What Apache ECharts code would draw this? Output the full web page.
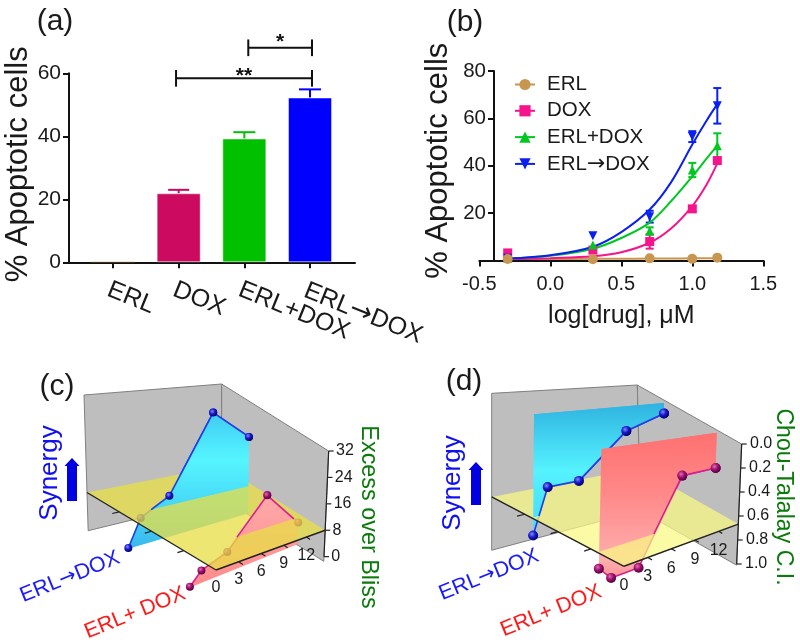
<!DOCTYPE html>
<html>
<head>
<meta charset="utf-8">
<style>
	html, body { margin: 0; background: #fff; }
	#main { width: 800px; height: 643px; }
</style>
<script src="https://cdn.jsdelivr.net/npm/echarts@6/dist/echarts.min.js"></script>
</head>
<body>
<div id="main"></div>
<script>
// (a) bars
const barCategories = ["ERL", "DOX", "ERL+DOX", "ERL→DOX"];
const barPositions = [1, 2, 3, 4];
const barValues = [0.2, 21.9, 39.3, 52.3];
const barErrors = [0, 1.1, 2, 2.6];
const barColors = ["#c89650", "#cc0a5f", "#00c000", "#0000ff"];
const brackets = [
	{ from: 1.96, to: 4.03, y: 58.4, arm: 2.65, labelY: 59, label: "**" },
	{ from: 3.06, to: 4.03, y: 68.1, arm: 2.65, labelY: 69.9, label: "*" },
];

// (b) dose response
const doseLogs = [-0.3, 0.3, 0.7, 1.0, 1.176];
const erlMeans = [0.6, 0.5, 0.9, 0.7, 1.2];
const doxMeans = [3.2, 4.4, 8, 21.8, 42.2];
const comboMeans = [1, 6.5, 12.5, 38.2, 48.4];
const seqMeans = [1, 10.5, 18.5, 52.3, 65.3];
const erlErrors = [0, 0, 0, 0, 0];
const doxErrors = [0, 0, 3, 1, 1];
const comboErrors = [0, 0, 1.5, 3, 5.3];
const seqErrors = [0, 0, 2.5, 2.3, 7.5];
const fitLogs = [-0.3, 0, 0.3, 0.5, 0.7, 0.85, 1.0, 1.1, 1.176];
const erlFit = [0.6, 0.6, 0.7, 0.7, 0.8, 0.8, 0.9, 0.9, 1];
const doxFit = [0.5, 1, 1.8, 3.5, 7.5, 13.5, 23, 32, 41];
const comboFit = [0.8, 2, 5, 9.5, 16, 25, 35.5, 43, 48.5];
const seqFit = [0.8, 2.2, 5.8, 12, 21.5, 33, 49, 59, 66];

// (c) and (d) ribbons
const ribbonDoses = [0.2, 1.7, 5, 10, 14];
const blissSeq = [0.2, 6.6, 10.4, 30.6, 22.5];
const blissCombo = [0.2, 2.9, 5.1, 16.8, 6.5];
const ciSeq = [0.785, 0.49, 0.49, 0.185, 0.083];
const ciCombo = [0.776, 0.867, 0.87, 0.29, 0.288];
const doseTicks = [0, 3, 6, 9, 12];
const blissTicks = [0, 8, 16, 24, 32];
const ciTicks = [0, 0.2, 0.4, 0.6, 0.8, 1];

const FONT = "Liberation Sans";
const INK = "#1a1a1a";

// the arrow glyph of Liberation is too short, take it from DejaVu
const arrowText = (s) => s.replace("→", "{a|→}");
const arrowRich = (size, color) => ({ a: { fontFamily: "DejaVu Sans", fontSize: size, color: color, fill: color } });

// pseudo 3D box, corners are given in the hidden grid units (u = front/back, v = front/left)
const panelC = {
	grid: 2,
	uMax: 14.5,
	zRange: [0, 32],
	plane: 8,
	wall: [-1.4, 32],
	reversed: false,
	corners: {
		front: [[650, 738], [642, 306]],
		right: [[972, 590], [986, 273]],
		left: [[264, 495], [252, 105]],
		back: [[665, 400], [665, 72]],
	},
	planeFill: "rgba(233,222,70,0.76)",
	ticks: blissTicks,
	tickText: (t) => String(t),
	tickDx: 22,
	doseDy: 54,
	balls: 12,
	seqV: 0.7,
	comboV: 0.22,
	seqStops: [[150, "#3fc8f5"], [300, "#55f5ff"], [570, "#39b8ee"]],
	comboStops: [[400, "#ffaaaa"], [690, "#ff8a8a"]],
};
const panelD = {
	grid: 3,
	uMax: 14.5,
	zRange: [0, 1],
	plane: 0.667,
	wall: [0, 1.01],
	reversed: true,
	corners: {
		front: [[620, 310], [608, 773]],
		right: [[965, 252], [950, 612]],
		left: [[215, 100], [215, 566]],
		back: [[652, 75], [661, 448]],
	},
	planeFill: "rgba(250,248,130,0.72)",
	ticks: ciTicks,
	tickText: (t) => t.toFixed(1),
	tickDx: 25,
	doseDy: 58,
	balls: 15,
	seqV: 0.7,
	comboV: 0.2,
	seqStops: [[130, "#2fb3e0"], [330, "#55f2ff"], [530, "#45d8ff"]],
	comboStops: [[215, "#ff7070"], [400, "#ff8888"], [600, "#ffaeae"], [660, "#ff9090"]],
};

const lerp = (a, b, t) => [a[0] + (b[0] - a[0]) * t, a[1] + (b[1] - a[1]) * t];

function project(panel, u, v, z) {
	const c = panel.corners;
	const s = u / panel.uMax;
	const w = (z - panel.zRange[0]) / (panel.zRange[1] - panel.zRange[0]);
	const low = lerp(lerp(c.front[0], c.right[0], s), lerp(c.left[0], c.back[0], s), v);
	const high = lerp(lerp(c.front[1], c.right[1], s), lerp(c.left[1], c.back[1], s), v);
	return lerp(low, high, w);
}

const aboveness = (panel, z) => (panel.reversed ? panel.plane - z : z - panel.plane);

// keep the part of a (u, z) polygon that stands above the yellow plane
function clipAbove(panel, poly) {
	const out = [];
	poly.forEach((p, i) => {
		const q = poly[(i + 1) % poly.length];
		const ap = aboveness(panel, p[1]);
		const aq = aboveness(panel, q[1]);
		if (ap >= 0) out.push(p);
		if (ap >= 0 !== aq >= 0) {
			const t = ap / (ap - aq);
			out.push([p[0] + (q[0] - p[0]) * t, p[1] + (q[1] - p[1]) * t]);
		}
	});
	return out;
}

function clipLine(panel, line) {
	const out = [];
	for (let i = 0; i < line.length - 1; i++) {
		const p = line[i];
		const q = line[i + 1];
		const ap = aboveness(panel, p[1]);
		const aq = aboveness(panel, q[1]);
		if (ap < 0 && aq < 0) continue;
		let a = p;
		let b = q;
		if (ap < 0 || aq < 0) {
			const t = ap / (ap - aq);
			const cross = [p[0] + (q[0] - p[0]) * t, p[1] + (q[1] - p[1]) * t];
			if (ap < 0) a = cross;
			else b = cross;
		}
		out.push([a, b]);
	}
	return out;
}

function ribbonSeries(panel, name, v, values, part, stops, lineColor, ballColors) {
	const base = panel.zRange[0];
	const line = ribbonDoses.map((d, i) => [d, values[i]]);
	const poly = [[ribbonDoses[0], base]]
		.concat(line)
		.concat([[ribbonDoses[ribbonDoses.length - 1], base]]);
	return {
		type: "custom",
		name: name,
		xAxisIndex: panel.grid,
		yAxisIndex: panel.grid,
		silent: true,
		data: line,
		renderItem: (params, api) => {
			const px = (u, z) => api.coord(project(panel, u, v, z));
			const children = [];
			if (params.dataIndex === 0) {
				const shape = part === "above" ? clipAbove(panel, poly) : poly;
				const y0 = api.coord([0, stops[0][0]])[1];
				const y1 = api.coord([0, stops[stops.length - 1][0]])[1];
				const colorStops = stops.map((s) => ({
					offset: (s[0] - stops[0][0]) / (stops[stops.length - 1][0] - stops[0][0]),
					color: s[1],
				}));
				children.push({
					type: "polygon",
					shape: { points: shape.map((p) => px(p[0], p[1])) },
					style: { fill: new echarts.graphic.LinearGradient(0, y0, 0, y1, colorStops, true) },
				});
				const segments = part === "above"
					? clipLine(panel, line)
					: line.slice(0, -1).map((p, i) => [p, line[i + 1]]);
				segments.forEach((seg) => {
					const a = px(seg[0][0], seg[0][1]);
					const b = px(seg[1][0], seg[1][1]);
					children.push({
						type: "line",
						shape: { x1: a[0], y1: a[1], x2: b[0], y2: b[1] },
						style: { stroke: lineColor, lineWidth: 1.6 },
					});
				});
			}
			const d = api.value(0);
			const z = api.value(1);
			if (part === "below" || aboveness(panel, z) >= 0) {
				const c = px(d, z);
				const r = Math.abs(api.coord([panel.balls, 0])[0] - api.coord([0, 0])[0]);
				children.push({
					type: "circle",
					shape: { cx: c[0], cy: c[1], r: r },
					style: {
						fill: new echarts.graphic.RadialGradient(0.38, 0.35, 0.65, [
							{ offset: 0, color: ballColors[0] },
							{ offset: 0.5, color: ballColors[1] },
							{ offset: 1, color: ballColors[2] },
						]),
					},
				});
			}
			return { type: "group", children: children };
		},
	};
}

// one-off drawing for a panel: walls, plane, axes
function panelLayer(panel, name, draw) {
	return {
		type: "custom",
		name: name,
		xAxisIndex: panel.grid,
		yAxisIndex: panel.grid,
		silent: true,
		data: [[0, 0]],
		renderItem: (params, api) => ({ type: "group", children: draw(api) }),
	};
}

function wallsLayer(panel) {
	return panelLayer(panel, "walls", (api) => {
		const px = (u, v, z) => api.coord(project(panel, u, v, z));
		const w0 = panel.wall[0];
		const w1 = panel.wall[1];
		const m = panel.uMax;
		const style = { fill: "#bebebe", stroke: "#808080", lineWidth: 1 };
		return [
			{ type: "polygon", shape: { points: [px(0, 1, w0), px(m, 1, w0), px(m, 1, w1), px(0, 1, w1)] }, style: style },
			{ type: "polygon", shape: { points: [px(m, 1, w0), px(m, 0, w0), px(m, 0, w1), px(m, 1, w1)] }, style: style },
		];
	});
}

function planeLayer(panel) {
	return panelLayer(panel, "plane", (api) => {
		const px = (u, v) => api.coord(project(panel, u, v, panel.plane));
		const m = panel.uMax;
		return [{
			type: "polygon",
			shape: { points: [px(0, 0), px(m, 0), px(m, 1), px(0, 1)] },
			style: { fill: panel.planeFill },
		}];
	});
}

function axesLayer(panel) {
	return panelLayer(panel, "axes", (api) => {
		const at = (u, v, z) => project(panel, u, v, z);
		const px = (p) => api.coord(p);
		const seg = (a, b, w) => {
			const p = px(a);
			const q = px(b);
			return { type: "line", shape: { x1: p[0], y1: p[1], x2: q[0], y2: q[1] }, style: { stroke: "#222", lineWidth: w } };
		};
		const label = (p, text, align) => {
			const c = px(p);
			return {
				type: "text",
				x: c[0],
				y: c[1],
				style: { text: text, fontFamily: FONT, fontSize: 16, fill: INK, align: align, verticalAlign: "middle" },
			};
		};
		const m = panel.uMax;
		const z = panel.plane;
		const kids = [seg(at(0, 1, z), at(0, 0, z), 1.4), seg(at(0, 0, z), at(m, 0, z), 1.4)];
		// box edge with the value ticks
		kids.push(seg(at(m, 0, panel.zRange[0]), at(m, 0, panel.zRange[1]), 1.2));
		panel.ticks.forEach((t) => {
			const p = at(m, 0, t);
			kids.push(seg(p, [p[0] + 15, p[1]], 1.2));
			kids.push(label([p[0] + panel.tickDx, p[1]], panel.tickText(t), "left"));
		});
		doseTicks.forEach((d) => {
			const p = at(d, 0, z);
			if (d > 0) kids.push(seg(p, at(d, -0.035, z), 1.2));
			kids.push(label([p[0], p[1] + panel.doseDy], String(d), "center"));
		});
		[0.25, 0.5, 0.75].forEach((v) => kids.push(seg(at(0, v, z), at(-0.8, v, z), 1.2)));
		return kids;
	});
}

const blueBall = ["#7f8cff", "#1a1ad0", "#00006e"];
const purpleBall = ["#e070b0", "#a01070", "#560040"];
const blueLine = "#1f3fe6";
const pinkLine = "#d81f8f";

function panelSeries(panel, seqValues, comboValues) {
	return [
		wallsLayer(panel),
		ribbonSeries(panel, "ERL→DOX", panel.seqV, seqValues, "below", panel.seqStops, blueLine, blueBall),
		ribbonSeries(panel, "ERL+ DOX", panel.comboV, comboValues, "below", panel.comboStops, pinkLine, purpleBall),
		planeLayer(panel),
		axesLayer(panel),
		ribbonSeries(panel, "ERL→DOX", panel.seqV, seqValues, "above", panel.seqStops, blueLine, blueBall),
		ribbonSeries(panel, "ERL+ DOX", panel.comboV, comboValues, "above", panel.comboStops, pinkLine, purpleBall),
	];
}

function errorSeries(gridIndex, xs, means, errors, color, capPx) {
	return {
		type: "custom",
		xAxisIndex: gridIndex,
		yAxisIndex: gridIndex,
		silent: true,
		data: xs.map((x, i) => [x, means[i], errors[i]]),
		renderItem: (params, api) => {
			const x = api.value(0);
			const top = api.coord([x, api.value(1) + api.value(2)]);
			const bottom = api.coord([x, api.value(1) - (gridIndex === 0 ? 0 : api.value(2))]);
			const style = { stroke: color, lineWidth: 2 };
			if (api.value(2) === 0) return { type: "group", children: [] };
			const kids = [
				{ type: "line", shape: { x1: top[0], y1: top[1], x2: bottom[0], y2: bottom[1] }, style: style },
				{ type: "line", shape: { x1: top[0] - capPx, y1: top[1], x2: top[0] + capPx, y2: top[1] }, style: style },
			];
			if (gridIndex !== 0) {
				kids.push({ type: "line", shape: { x1: top[0] - capPx, y1: bottom[1], x2: top[0] + capPx, y2: bottom[1] }, style: style });
			}
			return { type: "group", children: kids };
		},
	};
}

const fitSeries = (name, fit, color, symbol, rotate, size) => ({
	type: "line",
	name: name,
	xAxisIndex: 1,
	yAxisIndex: 1,
	data: fitLogs.map((x, i) => [x, fit[i]]),
	smooth: 0.35,
	showSymbol: false,
	symbol: symbol,
	symbolRotate: rotate,
	symbolSize: size,
	lineStyle: { color: color, width: 2 },
	itemStyle: { color: color },
	z: 3,
});

const markerSeries = (name, means, color, symbol, rotate, size) => ({
	type: "scatter",
	name: name,
	xAxisIndex: 1,
	yAxisIndex: 1,
	data: doseLogs.map((x, i) => [x, means[i]]),
	symbol: symbol,
	symbolRotate: rotate,
	symbolSize: size,
	itemStyle: { color: color, opacity: 1 },
	z: 4,
});

const numberAxis = {
	axisLine: { onZero: false, lineStyle: { color: "#111", width: 2 } },
	axisTick: { lineStyle: { color: "#111", width: 2 }, length: 6 },
	axisLabel: { fontFamily: FONT, fontSize: 21, color: INK, margin: 8 },
	splitLine: { show: false },
};

const hiddenAxis = (gridIndex, max, inverse) => ({
	type: "value",
	gridIndex: gridIndex,
	min: 0,
	max: max,
	inverse: inverse,
	show: false,
});

const panelText = (text, x, y, size, color, rotation) => ({
	type: "text",
	x: x,
	y: y,
	rotation: ((rotation || 0) * Math.PI) / 180,
	style: {
		text: arrowText(text),
		rich: arrowRich(size - 1, color),
		fontFamily: FONT,
		fontSize: size,
		fill: color,
		align: "center",
		verticalAlign: "middle",
	},
});

const blockArrow = (x, top, bottom) => ({
	type: "polygon",
	shape: {
		points: [[x - 5, bottom], [x + 5, bottom], [x + 5, top + 8], [x + 7.5, top + 8], [x, top], [x - 7.5, top + 8], [x - 5, top + 8]],
	},
	style: { fill: "#0000e0" },
});

const chart = echarts.init(document.getElementById("main"));
chart.setOption({
	animation: false,
	backgroundColor: "#fff",
	legend: {
		data: ["ERL", "DOX", "ERL+DOX", "ERL→DOX"],
		orient: "vertical",
		left: 514,
		top: 74,
		padding: 0,
		itemWidth: 20,
		itemHeight: 14,
		itemGap: 5.3,
		formatter: arrowText,
		textStyle: {
			fontFamily: FONT,
			fontSize: 20.5,
			color: INK,
			padding: [0, 0, 0, 7],
			rich: arrowRich(22, INK),
		},
	},
	grid: [
		{ left: 69, top: 73.3, width: 286, height: 189 },
		{ left: 479.3, top: 71, width: 284, height: 189.5 },
		{ left: 0, top: 360, width: 400, height: 283 },
		{ left: 420, top: 360, width: 380, height: 283 },
	],
	xAxis: [
		{
			type: "value",
			gridIndex: 0,
			min: 0.33,
			max: 4.685,
			...numberAxis,
			axisLine: { onZero: true, lineStyle: { color: "#111", width: 2 } },
			axisTick: { lineStyle: { color: "#111", width: 2 }, length: 6, customValues: barPositions },
			axisLabel: {
				fontFamily: FONT,
				fontSize: 25,
				color: INK,
				margin: 15,
				rotate: -22,
				align: "left",
				verticalAlign: "top",
				hideOverlap: false,
				// blank labels at the ends, otherwise ECharts drops a rotated neighbour as overlapping
				customValues: [0.33, ...barPositions, 4.685],
				formatter: (v) => (barPositions.includes(v) ? arrowText(barCategories[barPositions.indexOf(v)]) : ""),
				rich: arrowRich(27, INK),
			},
		},
		{
			type: "value",
			gridIndex: 1,
			min: -0.5,
			max: 1.5,
			interval: 0.5,
			...numberAxis,
			axisLabel: { ...numberAxis.axisLabel, fontSize: 20, margin: 14, formatter: (v) => v.toFixed(1) },
			name: "log[drug], μM",
			nameLocation: "middle",
			nameGap: 43,
			nameTextStyle: { fontFamily: FONT, fontSize: 25, color: INK },
		},
		hiddenAxis(2, 1200, false),
		hiddenAxis(3, 1140, false),
	],
	yAxis: [
		{
			type: "value",
			gridIndex: 0,
			min: 0,
			max: 60,
			interval: 20,
			...numberAxis,
			name: "% Apoptotic cells",
			nameLocation: "middle",
			nameRotate: 90,
			nameGap: 30,
			nameTextStyle: { fontFamily: FONT, fontSize: 31, color: INK, padding: [0, 0, 0, 7] },
		},
		{
			type: "value",
			gridIndex: 1,
			min: 0,
			max: 80,
			interval: 20,
			offset: -14.7,
			...numberAxis,
			axisLabel: { ...numberAxis.axisLabel, fontSize: 20.5, formatter: (v) => (v === 0 ? "" : String(v)) },
			name: "% Apoptotic cells",
			nameLocation: "middle",
			nameRotate: 90,
			nameGap: 40,
			nameTextStyle: { fontFamily: FONT, fontSize: 31, color: INK, padding: [0, 0, 0, 10] },
		},
		hiddenAxis(2, 849, true),
		hiddenAxis(3, 849, true),
	],
	series: [
		{
			type: "bar",
			xAxisIndex: 0,
			yAxisIndex: 0,
			barWidth: 44,
			data: barPositions.map((x, i) => ({
				value: [x, barValues[i]],
				itemStyle: { color: barColors[i], borderColor: "rgba(255,255,255,0.45)", borderWidth: i === 0 ? 0 : 1 },
			})),
			z: 3,
		},
		...barColors.map((color, i) =>
			errorSeries(0, [barPositions[i]], [barValues[i]], [barErrors[i]], color, i === 1 ? 10.5 : 11)
		),
		{
			type: "custom",
			xAxisIndex: 0,
			yAxisIndex: 0,
			silent: true,
			clip: false,
			data: brackets.map((b) => [b.from, b.to, b.y, b.arm, b.labelY]),
			renderItem: (params, api) => {
				const a = api.coord([api.value(0), api.value(2)]);
				const b = api.coord([api.value(1), api.value(2)]);
				const up = api.coord([api.value(0), api.value(2) + api.value(3)])[1];
				const down = api.coord([api.value(0), api.value(2) - api.value(3)])[1];
				const style = { stroke: "#111", lineWidth: 2 };
				return {
					type: "group",
					children: [
						{ type: "line", shape: { x1: a[0], y1: a[1], x2: b[0], y2: b[1] }, style: style },
						{ type: "line", shape: { x1: a[0], y1: up, x2: a[0], y2: down }, style: style },
						{ type: "line", shape: { x1: b[0], y1: up, x2: b[0], y2: down }, style: style },
						{
							type: "text",
							x: (a[0] + b[0]) / 2,
							y: api.coord([0.33, api.value(4)])[1],
							style: {
								text: brackets[params.dataIndex].label,
								fontFamily: FONT,
								fontSize: 21,
								fontWeight: "bold",
								fill: "#111",
								align: "center",
								verticalAlign: "middle",
							},
						},
					],
				};
			},
		},
		fitSeries("ERL", erlFit, "#c89650", "circle", 0, 10),
		fitSeries("DOX", doxFit, "#f5148c", "rect", 0, 9),
		fitSeries("ERL+DOX", comboFit, "#00c820", "triangle", 0, 9),
		fitSeries("ERL→DOX", seqFit, "#0a20f0", "triangle", 180, 9),
		errorSeries(1, doseLogs, erlMeans, erlErrors, "#c89650", 4),
		errorSeries(1, doseLogs, doxMeans, doxErrors, "#f5148c", 4),
		errorSeries(1, doseLogs, comboMeans, comboErrors, "#00c820", 4),
		errorSeries(1, doseLogs, seqMeans, seqErrors, "#0a20f0", 4),
		markerSeries("DOX", doxMeans, "#f5148c", "rect", 0, 9),
		markerSeries("ERL+DOX", comboMeans, "#00c820", "triangle", 0, 9),
		markerSeries("ERL→DOX", seqMeans, "#0a20f0", "triangle", 180, 9),
		markerSeries("ERL", erlMeans, "#c89650", "circle", 0, 10),
		...panelSeries(panelC, blissSeq, blissCombo),
		...panelSeries(panelD, ciSeq, ciCombo),
	],
	graphic: [
		panelText("(a)", 55, 22, 30, INK),
		panelText("(b)", 465, 23, 30, INK),
		panelText("(c)", 57, 387, 30, INK),
		panelText("(d)", 464, 382, 30, INK),
		panelText("Synergy", 50, 473, 26, "#1010f0", 90),
		panelText("Synergy", 453, 483, 26, "#1010f0", 90),
		blockArrow(72, 458, 501),
		blockArrow(476, 462, 505),
		panelText("Excess over Bliss", 368, 517, 23.4, "#0a7a0a", -90),
		panelText("Chou-Talalay C.I.", 783, 497, 23.1, "#0a7a0a", -90),
		panelText("ERL→DOX", 70, 577, 21.5, "#1a1aff", 22),
		panelText("ERL+ DOX", 135, 613, 21.5, "#ff1a1a", 22),
		panelText("ERL→DOX", 489, 575, 21.5, "#1a1aff", 22),
		panelText("ERL+ DOX", 551, 611, 21.5, "#ff1a1a", 22),
	],
});
</script>
</body>
</html>
